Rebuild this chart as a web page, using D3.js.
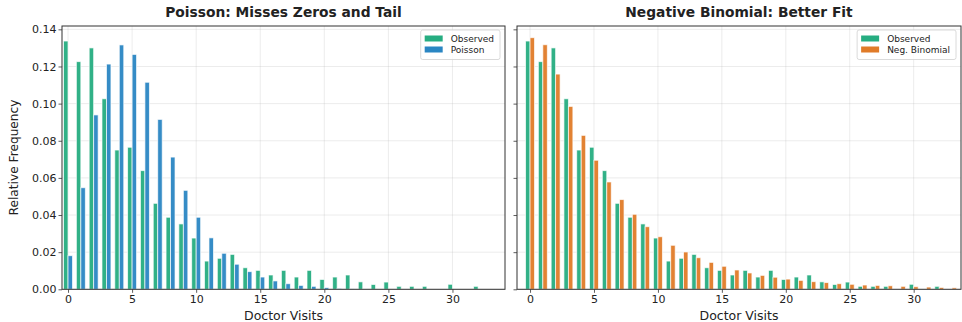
<!DOCTYPE html>
<html><head><meta charset="utf-8">
<script src="https://cdn.jsdelivr.net/npm/d3@7"></script>
<style>body{margin:0;background:#fff} svg{display:block} text{font-family:"DejaVu Sans",sans-serif;fill:#222}</style>
</head><body><svg id="c" width="962" height="322"></svg>
<script>
// ---- data ----
const visits = [0,1,2,3,4,5,6,7,8,9,10,11,12,13,14,15,16,17,18,19,20,21,22,23,24,25,26,27,28,29,30,31,32,33];
const observed = [0.1337,0.1226,0.1300,0.1026,0.0750,0.0765,0.0639,0.0463,0.0388,0.0352,0.0276,0.0152,0.0167,0.0188,0.0116,0.0102,0.0077,0.0102,0.0066,0.0102,0.0053,0.0066,0.0077,0.0040,0.0026,0.0039,0.0016,0.0016,0.0016,0,0.0027,0,0.0016,0];
const poisson = [0.0181,0.0547,0.0939,0.1213,0.1316,0.1265,0.1115,0.0915,0.0712,0.0533,0.0388,0.0277,0.0194,0.0135,0.0095,0.0066,0.0045,0.0030,0.0021,0.0016,0.0009,0.0005,0.0002,0.0001,0,0,0,0,0,0,0,0,0,0];
const negBinomial = [0.1355,0.1317,0.1159,0.0985,0.0829,0.0695,0.0578,0.0483,0.0404,0.0337,0.0283,0.0237,0.0201,0.0170,0.0145,0.0124,0.0104,0.0088,0.0075,0.0065,0.0055,0.0048,0.0041,0.0036,0.0030,0.0027,0.0023,0.0021,0.0019,0.0016,0.0014,0.0012,0.0010,0.0008];
const xTicks = [0,5,10,15,20,25,30];
const yTicks = [0,0.02,0.04,0.06,0.08,0.10,0.12,0.14];
const titles = ["Poisson: Misses Zeros and Tail","Negative Binomial: Better Fit"];
const seriesNames = ["Observed","Poisson","Neg. Binomial"];
const xLabel = "Doctor Visits", yLabel = "Relative Frequency";

// ---- style / layout ----
const colors = {obs:"#26ad81", pois:"#2a86c3", nb:"#e07b28"};
const plotTop = 26, plotBottom = 289.3;
const panels = [
  {x0:62, x1:505, xdom:[-0.47,34.1], title:titles[0], fit:poisson, fitName:seriesNames[1], fitColor:colors.pois, yLabels:true},
  {x0:517, x1:961, xdom:[-1.02,33.7], title:titles[1], fit:negBinomial, fitName:seriesNames[2], fitColor:colors.nb, yLabels:false}
];
const barW = 0.35;
const svg = d3.select("#c");
const y = d3.scaleLinear().domain([0,0.1418]).range([plotBottom, plotTop]);

panels.forEach(p => {
  const x = d3.scaleLinear().domain(p.xdom).range([p.x0, p.x1]);
  const g = svg.append("g");
  // grid
  g.append("g").selectAll("line").data(yTicks).join("line")
    .attr("x1", p.x0).attr("x2", p.x1).attr("y1", d=>y(d)).attr("y2", d=>y(d))
    .attr("stroke","#b0b0b0").attr("stroke-opacity",0.3).attr("stroke-width",0.8);
  g.append("g").selectAll("line").data(xTicks).join("line")
    .attr("x1", d=>x(d)).attr("x2", d=>x(d)).attr("y1", plotTop).attr("y2", plotBottom)
    .attr("stroke","#b0b0b0").attr("stroke-opacity",0.3).attr("stroke-width",0.8);
  // bars
  const drawBars = (vals, off, col) => {
    g.append("g").selectAll("rect").data(visits.filter((v,i)=>vals[i]>0)).join("rect")
      .attr("x", d => x(d + off))
      .attr("width", x(barW) - x(0))
      .attr("y", d => y(vals[visits.indexOf(d)]))
      .attr("height", d => plotBottom - y(vals[visits.indexOf(d)]))
      .attr("fill", col).attr("fill-opacity",0.95)
      .attr("stroke","#fff").attr("stroke-width",0.9).attr("stroke-opacity",0.75);
  };
  drawBars(observed, -barW, colors.obs);
  drawBars(p.fit, 0, p.fitColor);
  // axes
  const xa = g.append("g").attr("transform",`translate(0,${plotBottom})`)
    .call(d3.axisBottom(x).tickValues(xTicks).tickSize(3.5).tickPadding(2).tickFormat(d3.format("d")));
  const ya = g.append("g").attr("transform",`translate(${p.x0},0)`)
    .call(d3.axisLeft(y).tickValues(yTicks).tickSize(3.5).tickPadding(2)
      .tickFormat(p.yLabels ? d3.format(".2f") : ""));
  [xa, ya].forEach(a => {
    a.select(".domain").remove();
    a.selectAll("line").attr("stroke","#333").attr("stroke-width",0.8);
    a.selectAll("text").style("font-size","11px").attr("fill","#222");
  });
  // frame
  g.append("rect").attr("x",p.x0).attr("y",plotTop).attr("width",p.x1-p.x0).attr("height",plotBottom-plotTop)
    .attr("fill","none").attr("stroke","#333").attr("stroke-width",1);
  // title
  g.append("text").attr("x",(p.x0+p.x1)/2).attr("y",17).attr("text-anchor","middle")
    .style("font-size","13.8px").style("font-weight","bold").text(p.title);
  g.append("text").attr("x",(p.x0+p.x1)/2).attr("y",320).attr("text-anchor","middle")
    .style("font-size","12.5px").text(xLabel);
  // legend
  const lg = g.append("g");
  const items = [[seriesNames[0],colors.obs],[p.fitName,p.fitColor]];
  const box = lg.append("rect");
  const texts = items.map((it,i) => lg.append("text").attr("y", 42 + i*11).style("font-size","9px").text(it[0]));
  const tw = d3.max(texts, t => t.node().getComputedTextLength());
  const bw = tw + 36, bx = p.x1 - 5 - bw;
  box.attr("x",bx).attr("y",30).attr("width",bw).attr("height",29.5).attr("rx",2)
    .attr("fill","#fff").attr("fill-opacity",0.8).attr("stroke","#d0d0d0").attr("stroke-width",0.8);
  texts.forEach(t => t.attr("x", bx + 30));
  items.forEach((it,i) => lg.append("rect").attr("x",bx+4).attr("y",35.5+i*11).attr("width",18).attr("height",6).attr("fill",it[1]));
});
svg.append("text").attr("transform","translate(18,157.5) rotate(-90)").attr("text-anchor","middle")
  .style("font-size","12.2px").text(yLabel);
</script></body></html>
